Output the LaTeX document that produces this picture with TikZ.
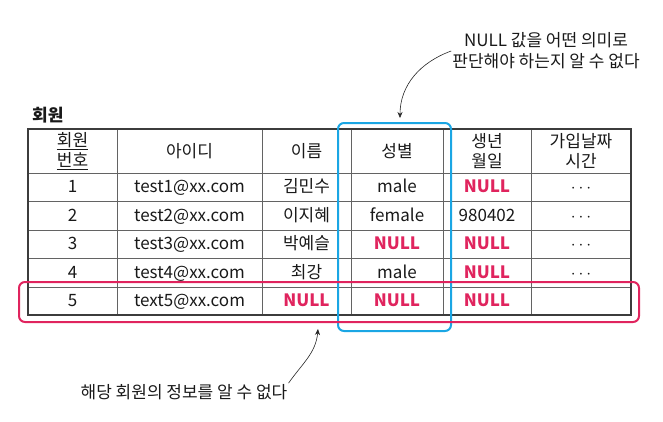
\documentclass[tikz,border=0pt]{standalone}
\usepackage{fontspec}
\setmainfont{Noto Sans CJK KR}
\usepackage{tikz}
\usetikzlibrary{arrows.meta}
\definecolor{nullred}{HTML}{E0245E}
\definecolor{keyblue}{HTML}{1AA6E4}
\definecolor{gridgray}{HTML}{3C3C3C}
\tikzset{
	headcell/.style={font=\fontsize{17}{20}\selectfont, align=center, text=black!90, inner sep=1pt},
	cell/.style={font=\fontsize{17}{20}\selectfont, text=black!90, inner sep=1pt, text height=14pt, text depth=3pt},
	nullcell/.style={cell, font=\fontsize{17}{20}\selectfont\bfseries, text=nullred},
	note/.style={font=\fontsize{17}{21}\selectfont, align=center, text=black!90, inner sep=1pt},
	grid/.style={line width=0.8pt, color=gridgray!80},
	pointer/.style={line width=0.6pt, color=black!85, -{Stealth[length=6pt,width=5pt]}}
}

\begin{document}
\begin{tikzpicture}[x=1pt, y=-1pt]
			%%%%% START %%%%%
			\useasboundingbox (0, 0) rectangle (663, 421);
			
			\node[headcell, font=\fontsize{17}{20}\selectfont\bfseries, anchor=west] (title) at (31, 115) {회원};
			
			\draw[grid] (28, 173) -- (631, 173);
			\draw[grid] (28, 201) -- (631, 201);
			\draw[grid] (28, 230) -- (631, 230);
			\draw[grid] (28, 258) -- (631, 258);
			\draw[grid] (28, 287) -- (631, 287);
			
			\draw[grid] (117, 129) -- (117, 315);
			\draw[grid] (262, 129) -- (262, 315);
			\draw[grid] (351, 129) -- (351, 315);
			\draw[grid] (443, 129) -- (443, 315);
			\draw[grid] (531, 129) -- (531, 315);
			
			\draw[line width=1.1pt, color=gridgray] (28, 129) rectangle (631, 315);
			
			\node[headcell] (hid) at (72.5, 151) {\underline{회원}\\\underline{번호}};
			\node[headcell] (hmail) at (189.5, 151) {아이디};
			\node[headcell] (hname) at (306.5, 151) {이름};
			\node[headcell] (hsex) at (397, 151) {성별};
			\node[headcell] (hbirth) at (487, 151) {생년\\월일};
			\node[headcell] (hjoin) at (581, 151) {가입날짜\\시간};
			
			\node[cell] (id1) at (72.5, 187) {1};
			\node[cell] (mail1) at (189.5, 187) {test1@xx.com};
			\node[cell] (name1) at (306.5, 187) {김민수};
			\node[cell] (sex1) at (397, 187) {male};
			\node[nullcell] (birth1) at (487, 187) {NULL};
			\node[cell] (join1) at (581, 187) {$\cdots$};
			
			\node[cell] (id2) at (72.5, 215.5) {2};
			\node[cell] (mail2) at (189.5, 215.5) {test2@xx.com};
			\node[cell] (name2) at (306.5, 215.5) {이지혜};
			\node[cell] (sex2) at (397, 215.5) {female};
			\node[cell] (birth2) at (487, 215.5) {980402};
			\node[cell] (join2) at (581, 215.5) {$\cdots$};
			
			\node[cell] (id3) at (72.5, 244) {3};
			\node[cell] (mail3) at (189.5, 244) {test3@xx.com};
			\node[cell] (name3) at (306.5, 244) {박예슬};
			\node[nullcell] (sex3) at (397, 244) {NULL};
			\node[nullcell] (birth3) at (487, 244) {NULL};
			\node[cell] (join3) at (581, 244) {$\cdots$};
			
			\node[cell] (id4) at (72.5, 272.5) {4};
			\node[cell] (mail4) at (189.5, 272.5) {test4@xx.com};
			\node[cell] (name4) at (306.5, 272.5) {최강};
			\node[cell] (sex4) at (397, 272.5) {male};
			\node[nullcell] (birth4) at (487, 272.5) {NULL};
			\node[cell] (join4) at (581, 272.5) {$\cdots$};
			
			\node[cell] (id5) at (72.5, 301) {5};
			\node[cell] (mail5) at (189.5, 301) {text5@xx.com};
			\node[nullcell] (name5) at (306.5, 301) {NULL};
			\node[nullcell] (sex5) at (397, 301) {NULL};
			\node[nullcell] (birth5) at (487, 301) {NULL};
			
			\draw[line width=2pt, color=keyblue, rounded corners=6pt] (338, 123) rectangle (451, 331);
			\draw[line width=2pt, color=nullred, rounded corners=6pt] (19, 282) rectangle (639, 322);
			
			\node[note] (topnote) at (546, 51) {NULL 값을 어떤 의미로\\판단해야 하는지 알 수 없다};
			\node[note] (botnote) at (184, 392) {해당 회원의 정보를 알 수 없다};
			
			\coordinate (sextip) at (400, 118);
			\coordinate (rowtip) at (318, 329);
			\draw[pointer] (topnote.west) to[out=200, in=90] (sextip);
			\draw[pointer] (botnote.north east) to[out=55, in=-95] (rowtip);
			
			%%%%% END %%%%%
\end{tikzpicture}
\end{document}
